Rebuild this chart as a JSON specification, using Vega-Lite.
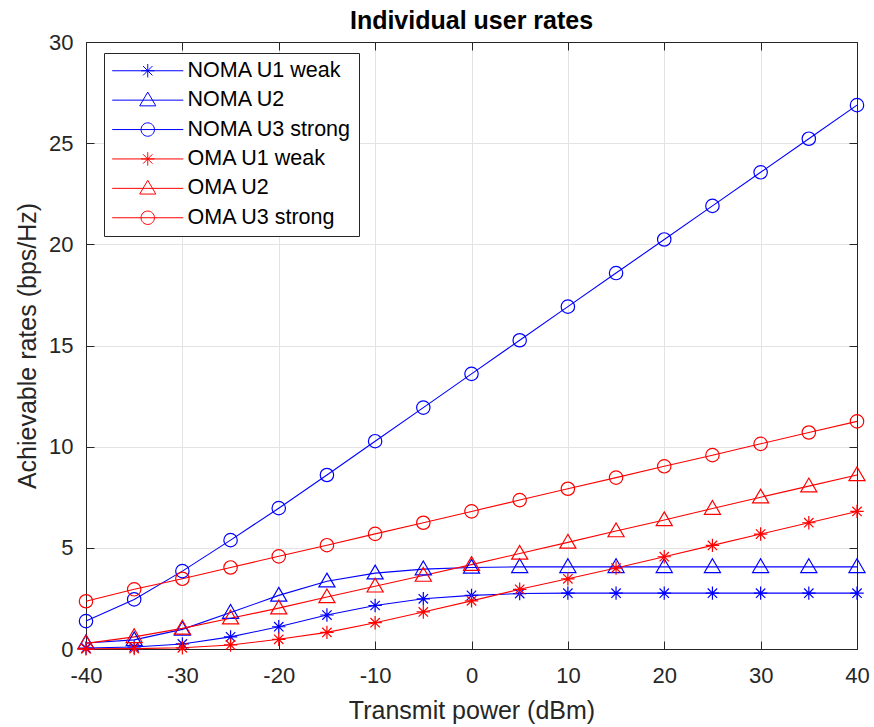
{
  "$schema": "https://vega.github.io/schema/vega-lite/v6.json",
  "width": 771,
  "height": 607,
  "autosize": {"type": "none"},
  "padding": {"left": 86, "top": 42, "right": 17, "bottom": 78},
  "background": "white",
  "config": {
    "font": "Liberation Sans",
    "view": {"stroke": null},
    "axis": {
      "domainColor": "#262626",
      "tickColor": "#262626",
      "labelColor": "#262626",
      "titleColor": "#262626",
      "domainWidth": 1,
      "tickWidth": 1,
      "gridColor": "#e3e3e3",
      "gridWidth": 1,
      "labelFlush": false,
      "labelFontSize": 22,
      "titleFontSize": 25,
      "titleFontWeight": "normal"
    },
    "legend": {
      "orient": "none", "legendX": 18, "legendY": 11,
      "title": null,
      "labelFontSize": 21.5, "labelColor": "#000000", "labelLimit": 400,
      "symbolSize": 180, "symbolStrokeWidth": 1,
      "symbolOffset": 26, "labelOffset": 29,
      "rowPadding": 6.4, "padding": 7,
      "strokeColor": "#262626", "fillColor": "white"
    }
  },
  "title": {
    "text": "Individual user rates",
    "fontSize": 25,
    "fontWeight": "bold",
    "color": "#000000",
    "anchor": "middle",
    "frame": "group",
    "baseline": "alphabetic",
    "offset": -23
  },
  "data": {
    "values": [
      {"p": -40, "rate": 0.05, "series": "NOMA U1 weak", "user": "U1"},
      {"p": -35, "rate": 0.1, "series": "NOMA U1 weak", "user": "U1"},
      {"p": -30, "rate": 0.25, "series": "NOMA U1 weak", "user": "U1"},
      {"p": -25, "rate": 0.6, "series": "NOMA U1 weak", "user": "U1"},
      {"p": -20, "rate": 1.1, "series": "NOMA U1 weak", "user": "U1"},
      {"p": -15, "rate": 1.68, "series": "NOMA U1 weak", "user": "U1"},
      {"p": -10, "rate": 2.15, "series": "NOMA U1 weak", "user": "U1"},
      {"p": -5, "rate": 2.48, "series": "NOMA U1 weak", "user": "U1"},
      {"p": 0, "rate": 2.65, "series": "NOMA U1 weak", "user": "U1"},
      {"p": 5, "rate": 2.74, "series": "NOMA U1 weak", "user": "U1"},
      {"p": 10, "rate": 2.76, "series": "NOMA U1 weak", "user": "U1"},
      {"p": 15, "rate": 2.76, "series": "NOMA U1 weak", "user": "U1"},
      {"p": 20, "rate": 2.76, "series": "NOMA U1 weak", "user": "U1"},
      {"p": 25, "rate": 2.76, "series": "NOMA U1 weak", "user": "U1"},
      {"p": 30, "rate": 2.76, "series": "NOMA U1 weak", "user": "U1"},
      {"p": 35, "rate": 2.76, "series": "NOMA U1 weak", "user": "U1"},
      {"p": 40, "rate": 2.76, "series": "NOMA U1 weak", "user": "U1"},
      {"p": -40, "rate": 0.3, "series": "NOMA U2", "user": "U2"},
      {"p": -35, "rate": 0.45, "series": "NOMA U2", "user": "U2"},
      {"p": -30, "rate": 0.97, "series": "NOMA U2", "user": "U2"},
      {"p": -25, "rate": 1.8, "series": "NOMA U2", "user": "U2"},
      {"p": -20, "rate": 2.65, "series": "NOMA U2", "user": "U2"},
      {"p": -15, "rate": 3.35, "series": "NOMA U2", "user": "U2"},
      {"p": -10, "rate": 3.75, "series": "NOMA U2", "user": "U2"},
      {"p": -5, "rate": 3.95, "series": "NOMA U2", "user": "U2"},
      {"p": 0, "rate": 4.03, "series": "NOMA U2", "user": "U2"},
      {"p": 5, "rate": 4.06, "series": "NOMA U2", "user": "U2"},
      {"p": 10, "rate": 4.06, "series": "NOMA U2", "user": "U2"},
      {"p": 15, "rate": 4.06, "series": "NOMA U2", "user": "U2"},
      {"p": 20, "rate": 4.06, "series": "NOMA U2", "user": "U2"},
      {"p": 25, "rate": 4.06, "series": "NOMA U2", "user": "U2"},
      {"p": 30, "rate": 4.06, "series": "NOMA U2", "user": "U2"},
      {"p": 35, "rate": 4.06, "series": "NOMA U2", "user": "U2"},
      {"p": 40, "rate": 4.06, "series": "NOMA U2", "user": "U2"},
      {"p": -40, "rate": 1.38, "series": "NOMA U3 strong", "user": "U3"},
      {"p": -35, "rate": 2.45, "series": "NOMA U3 strong", "user": "U3"},
      {"p": -30, "rate": 3.85, "series": "NOMA U3 strong", "user": "U3"},
      {"p": -25, "rate": 5.38, "series": "NOMA U3 strong", "user": "U3"},
      {"p": -20, "rate": 6.96, "series": "NOMA U3 strong", "user": "U3"},
      {"p": -15, "rate": 8.6, "series": "NOMA U3 strong", "user": "U3"},
      {"p": -10, "rate": 10.27, "series": "NOMA U3 strong", "user": "U3"},
      {"p": -5, "rate": 11.93, "series": "NOMA U3 strong", "user": "U3"},
      {"p": 0, "rate": 13.6, "series": "NOMA U3 strong", "user": "U3"},
      {"p": 5, "rate": 15.26, "series": "NOMA U3 strong", "user": "U3"},
      {"p": 10, "rate": 16.92, "series": "NOMA U3 strong", "user": "U3"},
      {"p": 15, "rate": 18.58, "series": "NOMA U3 strong", "user": "U3"},
      {"p": 20, "rate": 20.24, "series": "NOMA U3 strong", "user": "U3"},
      {"p": 25, "rate": 21.9, "series": "NOMA U3 strong", "user": "U3"},
      {"p": 30, "rate": 23.56, "series": "NOMA U3 strong", "user": "U3"},
      {"p": 35, "rate": 25.22, "series": "NOMA U3 strong", "user": "U3"},
      {"p": 40, "rate": 26.88, "series": "NOMA U3 strong", "user": "U3"},
      {"p": -40, "rate": 0.01, "series": "OMA U1 weak", "user": "U1"},
      {"p": -35, "rate": 0.02, "series": "OMA U1 weak", "user": "U1"},
      {"p": -30, "rate": 0.06, "series": "OMA U1 weak", "user": "U1"},
      {"p": -25, "rate": 0.2, "series": "OMA U1 weak", "user": "U1"},
      {"p": -20, "rate": 0.48, "series": "OMA U1 weak", "user": "U1"},
      {"p": -15, "rate": 0.82, "series": "OMA U1 weak", "user": "U1"},
      {"p": -10, "rate": 1.3, "series": "OMA U1 weak", "user": "U1"},
      {"p": -5, "rate": 1.83, "series": "OMA U1 weak", "user": "U1"},
      {"p": 0, "rate": 2.38, "series": "OMA U1 weak", "user": "U1"},
      {"p": 5, "rate": 2.95, "series": "OMA U1 weak", "user": "U1"},
      {"p": 10, "rate": 3.47, "series": "OMA U1 weak", "user": "U1"},
      {"p": 15, "rate": 4.0, "series": "OMA U1 weak", "user": "U1"},
      {"p": 20, "rate": 4.56, "series": "OMA U1 weak", "user": "U1"},
      {"p": 25, "rate": 5.12, "series": "OMA U1 weak", "user": "U1"},
      {"p": 30, "rate": 5.68, "series": "OMA U1 weak", "user": "U1"},
      {"p": 35, "rate": 6.24, "series": "OMA U1 weak", "user": "U1"},
      {"p": 40, "rate": 6.8, "series": "OMA U1 weak", "user": "U1"},
      {"p": -40, "rate": 0.28, "series": "OMA U2", "user": "U2"},
      {"p": -35, "rate": 0.6, "series": "OMA U2", "user": "U2"},
      {"p": -30, "rate": 1.02, "series": "OMA U2", "user": "U2"},
      {"p": -25, "rate": 1.52, "series": "OMA U2", "user": "U2"},
      {"p": -20, "rate": 2.02, "series": "OMA U2", "user": "U2"},
      {"p": -15, "rate": 2.57, "series": "OMA U2", "user": "U2"},
      {"p": -10, "rate": 3.1, "series": "OMA U2", "user": "U2"},
      {"p": -5, "rate": 3.63, "series": "OMA U2", "user": "U2"},
      {"p": 0, "rate": 4.17, "series": "OMA U2", "user": "U2"},
      {"p": 5, "rate": 4.72, "series": "OMA U2", "user": "U2"},
      {"p": 10, "rate": 5.27, "series": "OMA U2", "user": "U2"},
      {"p": 15, "rate": 5.83, "series": "OMA U2", "user": "U2"},
      {"p": 20, "rate": 6.38, "series": "OMA U2", "user": "U2"},
      {"p": 25, "rate": 6.94, "series": "OMA U2", "user": "U2"},
      {"p": 30, "rate": 7.5, "series": "OMA U2", "user": "U2"},
      {"p": 35, "rate": 8.05, "series": "OMA U2", "user": "U2"},
      {"p": 40, "rate": 8.6, "series": "OMA U2", "user": "U2"},
      {"p": -40, "rate": 2.36, "series": "OMA U3 strong", "user": "U3"},
      {"p": -35, "rate": 2.95, "series": "OMA U3 strong", "user": "U3"},
      {"p": -30, "rate": 3.47, "series": "OMA U3 strong", "user": "U3"},
      {"p": -25, "rate": 4.03, "series": "OMA U3 strong", "user": "U3"},
      {"p": -20, "rate": 4.58, "series": "OMA U3 strong", "user": "U3"},
      {"p": -15, "rate": 5.13, "series": "OMA U3 strong", "user": "U3"},
      {"p": -10, "rate": 5.69, "series": "OMA U3 strong", "user": "U3"},
      {"p": -5, "rate": 6.24, "series": "OMA U3 strong", "user": "U3"},
      {"p": 0, "rate": 6.8, "series": "OMA U3 strong", "user": "U3"},
      {"p": 5, "rate": 7.36, "series": "OMA U3 strong", "user": "U3"},
      {"p": 10, "rate": 7.92, "series": "OMA U3 strong", "user": "U3"},
      {"p": 15, "rate": 8.47, "series": "OMA U3 strong", "user": "U3"},
      {"p": 20, "rate": 9.03, "series": "OMA U3 strong", "user": "U3"},
      {"p": 25, "rate": 9.58, "series": "OMA U3 strong", "user": "U3"},
      {"p": 30, "rate": 10.14, "series": "OMA U3 strong", "user": "U3"},
      {"p": 35, "rate": 10.7, "series": "OMA U3 strong", "user": "U3"},
      {"p": 40, "rate": 11.25, "series": "OMA U3 strong", "user": "U3"}
    ]
  },
  "layer": [
    {
      "mark": {"type": "line", "strokeWidth": 1.1},
      "encoding": {
        "x": {
          "field": "p", "type": "quantitative",
          "scale": {"domain": [-40, 40], "nice": false},
          "axis": {
            "orient": "bottom",
            "values": [-40, -30, -20, -10, 0, 10, 20, 30, 40],
            "labelExpr": "datum.value < 0 ? '-' + abs(datum.value) : '' + datum.value",
            "tickSize": -8,
            "labelPadding": 24,
            "grid": true,
            "title": "Transmit power (dBm)",
            "titlePadding": 12
          }
        },
        "y": {
          "field": "rate", "type": "quantitative",
          "scale": {"domain": [0, 30], "nice": false},
          "axis": {
            "orient": "left",
            "values": [0, 5, 10, 15, 20, 25, 30],
            "tickSize": -8,
            "labelPadding": 21,
            "grid": true,
            "title": "Achievable rates (bps/Hz)",
            "titlePadding": 8
          }
        },
        "color": {
          "field": "series", "type": "nominal",
          "scale": {
            "domain": ["NOMA U1 weak", "NOMA U2", "NOMA U3 strong", "OMA U1 weak", "OMA U2", "OMA U3 strong"],
            "range": ["#0000ff", "#0000ff", "#0000ff", "#ff0000", "#ff0000", "#ff0000"]
          }
        }
      }
    },
    {
      "mark": {"type": "point", "filled": false, "size": 180, "strokeWidth": 1.2, "opacity": 1},
      "encoding": {
        "x": {"field": "p", "type": "quantitative", "axis": null},
        "y": {"field": "rate", "type": "quantitative", "axis": null},
        "color": {
          "field": "series", "type": "nominal",
          "legend": {
            "title": null,
            "symbolType": {"expr": "scale('shape', slice(datum.value, indexof(datum.value, 'U'), indexof(datum.value, 'U') + 2)) + ' M-5.3,0L5.3,0'"}
          }
        },
        "shape": {
          "field": "user", "type": "nominal",
          "scale": {
            "domain": ["U1", "U2", "U3"],
            "range": [
              "M0,-1L0,1M-1,0L1,0M-0.7,-0.7L0.7,0.7M-0.7,0.7L0.7,-0.7",
              "M0,-1.2L1.2,0.85L-1.2,0.85Z",
              "M1,0A1,1,0,1,1,-1,0A1,1,0,1,1,1,0Z"
            ]
          },
          "legend": null
        }
      }
    },
    {
      "mark": {"type": "point", "opacity": 0},
      "encoding": {
        "x": {
          "field": "p", "type": "quantitative",
          "axis": {"orient": "top", "values": [-40, -30, -20, -10, 0, 10, 20, 30, 40], "labels": false, "tickSize": -8, "grid": false, "title": null}
        },
        "y": {
          "field": "rate", "type": "quantitative",
          "axis": {"orient": "right", "values": [0, 5, 10, 15, 20, 25, 30], "labels": false, "tickSize": -8, "grid": false, "title": null}
        }
      }
    }
  ],
  "resolve": {"axis": {"x": "independent", "y": "independent"}}
}
